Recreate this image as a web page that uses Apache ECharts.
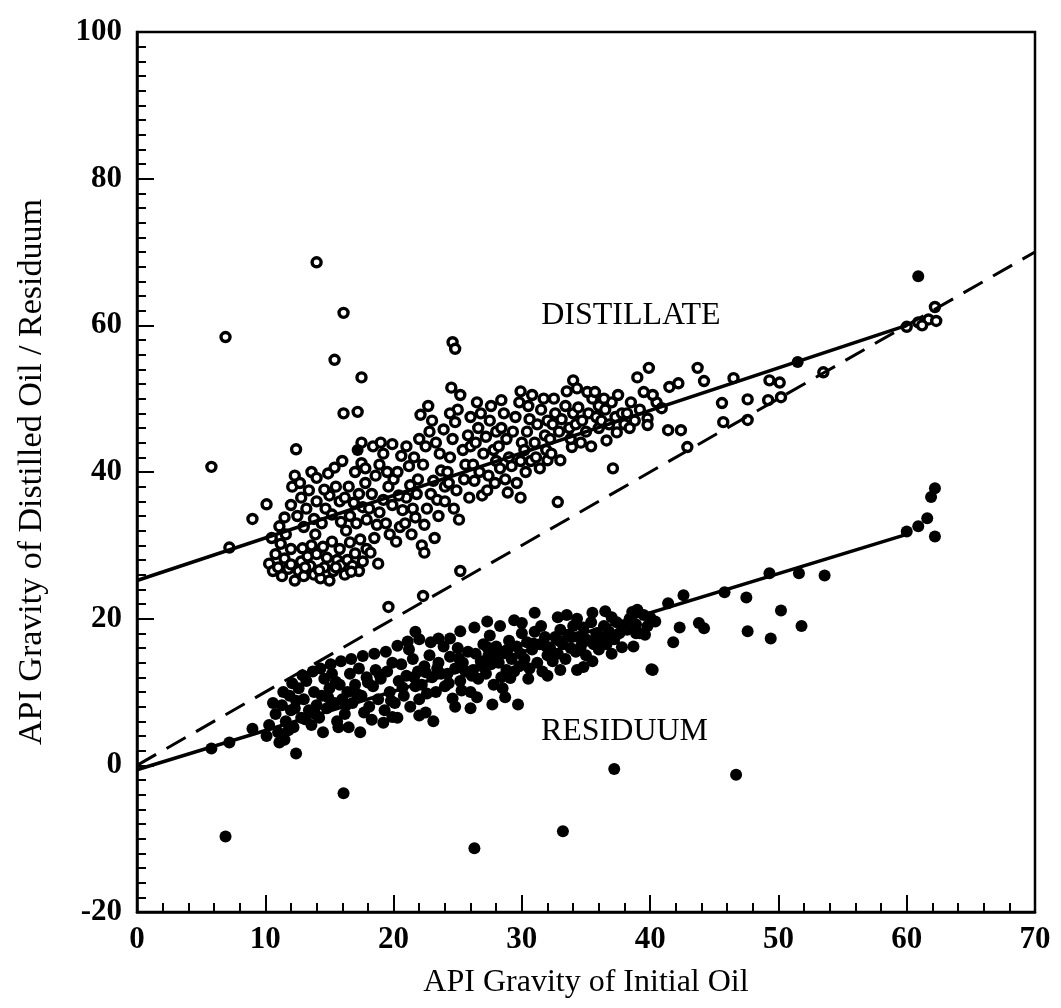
<!DOCTYPE html>
<html>
<head>
<meta charset="utf-8">
<title>API Gravity: Distillate vs Residuum</title>
<script src="https://cdn.jsdelivr.net/npm/echarts@6/dist/echarts.min.js"></script>
<style>
  html, body { margin: 0; padding: 0; background: #fff; }
  #chart { width: 1061px; height: 1008px; }
</style>
</head>
<body>
<div id="chart"></div>
<script>
// distillate (open circles), [initial API, distillate API]
const distillate = [
  [6.9, 58.4], [14.0, 68.6], [16.1, 61.7], [15.4, 55.3], [17.5, 52.9], [16.1, 48.0], [17.2, 48.2],
  [5.8, 40.7], [7.2, 29.7], [9.0, 33.6], [10.1, 35.6], [12.4, 43.1], [11.1, 32.6],
  [24.6, 57.7], [24.8, 56.8], [19.6, 21.6], [22.3, 23.1], [25.2, 26.5], [32.8, 35.9],
  // lower lobe
  [10.3, 27.5], [10.6, 26.5], [10.8, 28.8], [11.0, 27.0], [11.3, 25.8], [11.5, 28.2], [11.8, 26.8],
  [11.2, 30.2], [10.5, 31.0], [11.6, 31.5], [12.0, 29.5], [11.5, 33.8], [12.0, 35.5], [12.1, 38.0], [12.3, 39.5],
  [12.3, 25.2], [12.6, 26.5], [12.8, 27.8], [13.0, 25.8], [13.3, 28.5], [13.5, 27.2], [13.8, 26.0],
  [12.9, 29.6], [13.6, 30.0], [14.0, 28.8], [12.5, 34.0], [12.8, 36.5], [13.2, 35.0], [13.4, 37.5],
  [13.0, 32.5], [13.8, 33.6], [14.0, 36.0], [12.7, 38.5], [13.6, 40.0], [14.0, 39.2], [13.9, 31.5],
  [14.3, 25.5], [14.6, 27.0], [14.8, 28.3], [15.0, 25.2], [15.3, 26.5], [15.6, 28.0], [15.9, 27.3],
  [14.5, 29.8], [15.2, 30.5], [15.8, 29.5], [14.4, 33.0], [14.7, 35.0], [15.0, 36.8], [15.2, 34.2],
  [15.5, 38.0], [15.8, 36.0], [14.9, 39.8], [15.4, 40.6], [16.0, 41.5], [15.9, 33.2], [14.6, 37.6],
  [16.2, 26.0], [16.4, 28.0], [16.8, 27.2], [17.0, 28.9], [17.3, 26.5], [17.6, 27.8], [16.6, 30.4],
  [17.4, 30.8], [17.9, 29.5], [16.3, 32.0], [16.6, 34.0], [16.9, 35.8], [17.1, 33.0], [17.3, 37.0],
  [17.6, 35.2], [17.8, 38.5], [16.5, 38.0], [17.0, 40.0], [17.5, 41.2], [16.2, 36.5], [17.9, 33.5],
  [17.5, 44.0], [17.8, 40.5], [13.1, 27.0], [14.2, 26.6], [15.5, 27.0], [16.7, 26.4], [12.0, 27.4],
  // main band
  [18.2, 29.0], [18.5, 31.0], [18.7, 32.8], [18.9, 34.5], [19.2, 36.2], [19.4, 33.0], [19.6, 38.0],
  [19.9, 35.5], [18.3, 37.0], [18.6, 39.5], [18.9, 41.0], [19.2, 42.5], [19.5, 40.0], [19.9, 43.8],
  [18.4, 43.5], [19.0, 44.0], [18.1, 35.0], [19.7, 31.5], [20.0, 39.0], [18.8, 27.5],
  [20.2, 30.5], [20.5, 32.5], [20.7, 34.8], [21.0, 36.5], [21.3, 38.2], [21.5, 35.0], [21.8, 37.0],
  [20.3, 40.0], [20.6, 42.2], [21.0, 43.5], [21.2, 40.8], [21.6, 42.0], [21.9, 39.0], [20.9, 33.0],
  [21.7, 33.8], [22.0, 44.5], [20.4, 36.8], [21.4, 31.5],
  [22.2, 30.0], [22.4, 32.8], [22.6, 35.0], [22.9, 37.0], [23.1, 38.8], [23.4, 36.2], [23.7, 40.2],
  [24.0, 38.0], [22.3, 41.0], [22.5, 43.5], [22.8, 45.5], [23.0, 47.0], [23.3, 44.0], [23.6, 42.5],
  [23.9, 45.8], [22.1, 47.8], [22.7, 49.0], [23.5, 34.0], [24.0, 36.0], [22.4, 29.0], [23.2, 31.0],
  [24.2, 40.0], [24.4, 42.0], [24.6, 44.5], [24.8, 46.8], [25.0, 48.5], [25.2, 50.5], [24.5, 51.5],
  [25.4, 43.0], [25.6, 41.0], [25.8, 45.0], [26.0, 47.5], [24.3, 38.5], [24.9, 37.5], [25.5, 39.0],
  [26.0, 43.5], [25.1, 33.5], [24.7, 35.0], [25.9, 36.5], [24.4, 48.0],
  [26.2, 41.0], [26.4, 44.0], [26.6, 46.0], [26.8, 48.0], [27.0, 42.5], [27.2, 44.8], [27.5, 47.0],
  [27.8, 43.0], [28.0, 45.5], [26.3, 38.8], [26.7, 40.0], [27.4, 39.5], [27.9, 38.5], [26.5, 49.5],
  [27.6, 49.0], [28.0, 41.5], [26.9, 36.8], [27.3, 37.5],
  [28.2, 43.5], [28.4, 46.0], [28.6, 48.0], [28.8, 44.5], [29.0, 42.0], [29.3, 45.5], [29.5, 47.5],
  [29.8, 49.5], [30.0, 44.0], [28.3, 40.5], [28.7, 39.0], [29.2, 40.8], [29.6, 38.5], [29.9, 41.5],
  [28.4, 49.8], [29.9, 51.0], [28.9, 37.2], [29.9, 36.5],
  [30.2, 43.0], [30.4, 45.5], [30.6, 47.2], [30.8, 50.5], [31.0, 44.0], [31.2, 46.5], [31.5, 48.5],
  [31.8, 45.0], [32.0, 47.0], [30.3, 40.0], [30.7, 41.5], [31.1, 42.0], [31.4, 40.5], [31.9, 43.0],
  [30.5, 49.0], [31.7, 50.0], [32.0, 41.6],
  [32.2, 44.5], [32.4, 46.5], [32.6, 48.0], [32.9, 45.5], [33.1, 47.2], [33.4, 49.0], [33.7, 46.0],
  [34.0, 48.0], [32.3, 42.5], [33.0, 41.6], [33.9, 43.4], [33.5, 51.0], [34.0, 52.5], [32.5, 50.0],
  [33.8, 44.5],
  [34.2, 46.5], [34.4, 48.8], [34.7, 47.0], [35.0, 45.5], [35.2, 48.0], [35.5, 50.0], [35.8, 47.5],
  [36.0, 46.0], [34.3, 51.4], [35.1, 50.9], [35.7, 50.9], [34.6, 44.0], [35.4, 43.5], [36.0, 49.0],
  [36.2, 47.0], [36.5, 48.5], [36.8, 46.5], [37.0, 49.5], [37.3, 47.5], [37.5, 50.5], [37.8, 48.0],
  [36.6, 44.3], [37.4, 45.4], [37.1, 40.5], [36.4, 50.0], [38.0, 46.5],
  [38.2, 48.0], [38.5, 49.5], [38.8, 47.0], [39.0, 52.9], [39.2, 48.5], [39.5, 50.9], [39.8, 47.3],
  [39.9, 54.2], [38.4, 46.0], [39.8, 46.4],
  [40.5, 49.5], [40.9, 48.7], [40.2, 50.5], [41.5, 51.6], [42.2, 52.1], [41.4, 45.7], [42.4, 45.7],
  [43.7, 54.2], [44.2, 52.4], [42.9, 43.4], [45.6, 49.4], [46.5, 52.8], [47.6, 49.9], [45.7, 46.8],
  [47.6, 47.1], [49.3, 52.5], [49.2, 49.8], [50.2, 50.2], [50.1, 52.2], [53.5, 53.6],
  [60.0, 59.8], [60.9, 60.4], [61.7, 60.8], [62.2, 62.5], [62.3, 60.6], [61.2, 60.0]
];

// residuum (filled dots), [initial API, residuum API]
const residuum = [
  [6.9, -9.7], [16.1, -3.8], [26.3, -11.3], [33.2, -9.0], [37.2, -0.5], [46.7, -1.3],
  [60.9, 66.7], [51.5, 55.0], [17.2, 43.0],
  [5.8, 2.3], [7.2, 3.1], [9.0, 5.0], [10.1, 4.0], [11.1, 3.1], [12.4, 1.6], [15.7, 5.2], [17.4, 4.5], [23.1, 6.0],
  [10.3, 5.5], [10.8, 7.0], [11.0, 4.5], [11.3, 8.2], [11.6, 6.0], [11.9, 9.5], [11.5, 3.5], [12.0, 7.5],
  [12.2, 5.2], [12.4, 8.8], [12.6, 10.5], [12.8, 6.5], [13.0, 9.0], [13.2, 11.5], [13.4, 7.5],
  [13.6, 5.5], [13.8, 10.0], [14.0, 8.2],
  [14.2, 6.5], [14.4, 9.5], [14.6, 11.8], [14.8, 7.8], [15.0, 10.5], [15.2, 12.5], [15.4, 8.5],
  [15.6, 6.0], [15.8, 11.0], [16.0, 9.0], [14.5, 4.5],
  [16.2, 7.0], [16.4, 10.0], [16.6, 12.5], [16.8, 8.5], [17.0, 11.0], [17.3, 13.2], [17.5, 9.5],
  [17.7, 7.2], [17.9, 12.0], [16.5, 5.2],
  [18.1, 8.0], [18.4, 10.8], [18.6, 13.0], [18.8, 9.0], [19.0, 11.8], [19.3, 7.5], [19.5, 12.8],
  [19.7, 10.0], [19.9, 14.0], [18.3, 6.2], [19.2, 5.8],
  [20.1, 8.5], [20.4, 11.5], [20.6, 13.8], [20.8, 9.5], [21.0, 12.2], [21.3, 8.0], [21.5, 14.5],
  [21.7, 10.8], [21.9, 12.8], [20.3, 6.5], [21.2, 15.8], [22.0, 9.0],
  [22.2, 11.0], [22.4, 13.5], [22.6, 9.8], [22.8, 15.0], [23.0, 12.0], [23.3, 10.0], [23.5, 14.0],
  [23.7, 12.5], [23.9, 16.2], [22.5, 7.2], [23.5, 17.3], [24.0, 10.8],
  [24.2, 12.5], [24.4, 14.8], [24.6, 9.1], [24.8, 13.2], [25.0, 16.0], [25.2, 11.5], [25.4, 14.0],
  [25.6, 12.8], [25.8, 15.5], [26.0, 10.0], [24.4, 17.3], [25.2, 18.3], [26.0, 7.8], [25.3, 10.2],
  [26.2, 13.0], [26.4, 15.2], [26.6, 11.8], [26.8, 14.2], [27.0, 16.5], [27.2, 12.5], [27.4, 15.0],
  [27.6, 13.8], [27.8, 11.0], [28.0, 16.2], [27.5, 17.7], [27.3, 16.1], [27.7, 8.3],
  [28.2, 14.0], [28.4, 12.0], [28.6, 15.5], [28.8, 13.0], [29.0, 17.0], [29.2, 14.5], [29.4, 12.8],
  [29.6, 16.2], [29.8, 13.5], [30.0, 18.0], [28.5, 10.5], [28.7, 9.3], [29.1, 11.9], [29.7, 8.3],
  [30.2, 14.5], [30.4, 16.8], [30.6, 13.2], [30.8, 15.8], [31.0, 18.2], [31.2, 14.0], [31.4, 16.5],
  [31.6, 12.8], [31.8, 17.5], [32.0, 15.0], [30.0, 19.4], [31.5, 19.0],
  [32.2, 16.0], [32.4, 14.2], [32.6, 17.5], [32.8, 15.2], [33.0, 18.5], [33.2, 16.5], [33.4, 14.5],
  [33.6, 17.8], [33.8, 16.0], [34.0, 19.0], [32.8, 20.2], [34.3, 20.0], [33.0, 13.0],
  [34.2, 15.5], [34.4, 17.5], [34.6, 16.2], [34.8, 18.8], [35.0, 15.0], [35.2, 17.0], [35.4, 19.5],
  [35.6, 16.5], [35.8, 18.0], [36.0, 15.8], [34.3, 13.0], [34.8, 13.4],
  [36.2, 17.5], [36.4, 19.0], [36.6, 16.5], [36.8, 18.2], [37.0, 20.2], [37.2, 17.2], [37.4, 19.5],
  [37.6, 18.0], [37.8, 16.1], [38.0, 19.0],
  [38.2, 18.5], [38.4, 20.0], [38.6, 20.9], [38.7, 16.2], [38.9, 19.2], [39.2, 18.0], [39.5, 20.5],
  [39.8, 19.0], [40.1, 13.1], [40.0, 20.2],
  // infill of the dense band
  [10.6, 8.5], [11.4, 10.0], [12.1, 11.2], [12.9, 12.3], [13.7, 12.8], [14.3, 13.2], [15.1, 13.8],
  [15.9, 14.2], [16.7, 14.5], [17.6, 14.9], [18.5, 15.2], [19.4, 15.5], [20.3, 16.3], [21.1, 16.9],
  [22.0, 17.2], [22.9, 16.8], [12.3, 7.8], [13.1, 6.3], [13.9, 7.0], [14.9, 9.3], [15.5, 11.4],
  [16.3, 8.2], [17.1, 9.8], [18.0, 11.3], [18.9, 12.4], [19.8, 8.8], [20.7, 10.6], [21.6, 12.0],
  [22.5, 12.7], [23.4, 13.2], [24.3, 11.2], [25.1, 14.6], [26.1, 12.2], [26.9, 13.5], [27.9, 14.8],
  [28.9, 15.8], [29.9, 15.2], [30.9, 16.6], [31.9, 16.2], [32.9, 17.0], [33.9, 17.5], [34.9, 17.3],
  [35.9, 17.0], [36.9, 17.8], [37.9, 18.6], [38.9, 18.0], [39.6, 17.8], [40.4, 19.6], [39.0, 21.2],
  [36.5, 21.0], [35.5, 20.8], [33.5, 20.5], [31.0, 20.8], [29.4, 19.8], [28.3, 19.0], [30.5, 11.8],
  [32.0, 12.2], [35.5, 14.2], [37.0, 15.2], [26.5, 9.3], [24.8, 8.0], [22.0, 6.8], [19.9, 6.6],
  [11.8, 4.8], [21.7, 18.2], [26.3, 18.8], [27.3, 19.6],
  // sparse right side
  [41.4, 22.1], [42.6, 23.2], [43.8, 19.4], [44.2, 18.7], [42.3, 18.8], [41.8, 16.8], [40.2, 13.0],
  [45.8, 23.6], [47.5, 22.9], [49.3, 26.2], [51.6, 26.2], [53.6, 25.9], [50.2, 21.1], [51.8, 19.0],
  [47.6, 18.3], [49.4, 17.3],
  [60.0, 31.9], [60.9, 32.6], [61.6, 33.7], [61.9, 36.6], [62.2, 37.8], [62.2, 31.2]
];

// fitted lines and the 1:1 line
const distillateFit = [[0, 25.2], [60, 60]];
const residuumFit = [[0, -0.6], [60, 31.5]];
const parityLine = [[0, 0], [70, 70]];

// in-plot labels
const groupLabels = [
  { name: 'DISTILLATE', value: [38.5, 61.3] },
  { name: 'RESIDUUM', value: [38.0, 4.6] }
];

const serif = "'Liberation Serif', 'Times New Roman', serif";

const chart = echarts.init(document.getElementById('chart'));

const axisCommon = {
  axisLine: { onZero: false, lineStyle: { color: '#000', width: 2.5 } },
  axisTick: { inside: true, length: 17, lineStyle: { color: '#000', width: 2 } },
  minorTick: { show: true, length: 9, lineStyle: { color: '#000', width: 2 } },
  splitLine: { show: false },
  axisLabel: { color: '#000', fontFamily: serif, fontSize: 31, fontWeight: 'bold' },
  nameTextStyle: { color: '#000', fontFamily: serif, fontSize: 32 }
};

chart.setOption({
  backgroundColor: '#fff',
  animation: false,
  grid: {
    left: 137, right: 26, top: 32, bottom: 96,
    show: true, borderColor: '#000', borderWidth: 2.5
  },
  xAxis: Object.assign({}, axisCommon, {
    type: 'value',
    min: 0, max: 70, interval: 10,
    minorTick: Object.assign({}, axisCommon.minorTick, { splitNumber: 5 }),
    axisLabel: Object.assign({}, axisCommon.axisLabel, { margin: 12 }),
    name: 'API Gravity of Initial Oil',
    nameLocation: 'middle',
    nameGap: 55
  }),
  yAxis: Object.assign({}, axisCommon, {
    type: 'value',
    min: -20, max: 100, interval: 20,
    minorTick: Object.assign({}, axisCommon.minorTick, { splitNumber: 10 }),
    axisLabel: Object.assign({}, axisCommon.axisLabel, { margin: 15 }),
    name: 'API Gravity of Distilled Oil / Residuum',
    nameLocation: 'middle',
    nameGap: 88,
    nameTextStyle: { color: '#000', fontFamily: serif, fontSize: 34 }
  }),
  series: [
    {
      type: 'scatter',
      data: distillate,
      symbol: 'circle',
      symbolSize: 9,
      itemStyle: { color: '#fff', borderColor: '#000', borderWidth: 3.4, opacity: 1 },
      z: 2
    },
    {
      type: 'scatter',
      data: residuum,
      symbol: 'circle',
      symbolSize: 12,
      itemStyle: { color: '#000', opacity: 1 },
      z: 3
    },
    {
      type: 'line',
      data: distillateFit,
      showSymbol: false,
      lineStyle: { color: '#000', width: 3.5 },
      z: 4
    },
    {
      type: 'line',
      data: residuumFit,
      showSymbol: false,
      lineStyle: { color: '#000', width: 3.5 },
      z: 4
    },
    {
      type: 'line',
      data: parityLine,
      showSymbol: false,
      lineStyle: { color: '#000', width: 3, type: [22, 12] },
      z: 4
    },
    {
      type: 'scatter',
      data: groupLabels,
      symbolSize: 0,
      itemStyle: { opacity: 1 },
      label: {
        show: true,
        position: 'inside',
        formatter: p => p.name,
        color: '#000',
        fontFamily: serif,
        fontSize: 32
      },
      z: 5
    }
  ]
});
</script>
</body>
</html>
